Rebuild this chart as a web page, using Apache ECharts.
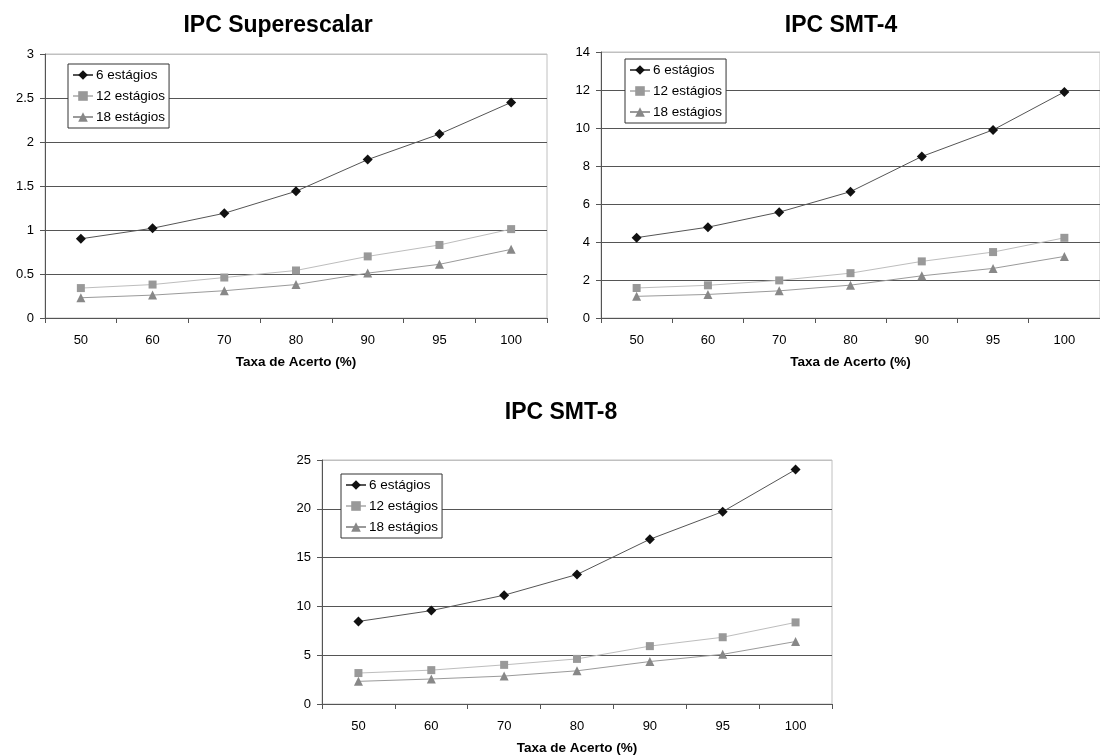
<!DOCTYPE html>
<html>
<head>
<meta charset="utf-8">
<script src="https://cdn.jsdelivr.net/npm/echarts@6/dist/echarts.min.js"></script>
<style>
  html, body { margin: 0; padding: 0; background: #fff; }
  #main { width: 1100px; height: 756px; }
</style>
</head>
<body>
<div id="main"></div>
<script>
// categorias (taxa de acerto %)
const categories = ['50', '60', '70', '80', '90', '95', '100']
const seriesNames = ['6 estágios', '12 estágios', '18 estágios']

// IPC Superescalar
const superescalar6 = [0.90, 1.02, 1.19, 1.44, 1.80, 2.09, 2.45]
const superescalar12 = [0.34, 0.38, 0.46, 0.54, 0.70, 0.83, 1.01]
const superescalar18 = [0.23, 0.26, 0.31, 0.38, 0.51, 0.61, 0.78]
// IPC SMT-4
const smt4_6 = [4.23, 4.78, 5.57, 6.65, 8.50, 9.90, 11.90]
const smt4_12 = [1.58, 1.72, 1.98, 2.36, 2.98, 3.47, 4.22]
const smt4_18 = [1.14, 1.24, 1.43, 1.73, 2.22, 2.61, 3.24]
// IPC SMT-8
const smt8_6 = [8.46, 9.57, 11.15, 13.27, 16.88, 19.71, 24.02]
const smt8_12 = [3.17, 3.47, 4.01, 4.62, 5.93, 6.84, 8.36]
const smt8_18 = [2.32, 2.56, 2.86, 3.40, 4.35, 5.09, 6.40]

const font = '"Liberation Sans", Arial, sans-serif'
const dark = '#555'
const light = '#c0c0c0'

// cores / simbolos de cada serie
const styles = [
    { symbol: 'diamond', size: 10, item: '#111', line: '#555' },
    { symbol: 'rect', size: 8, item: '#999', line: '#bdbdbd' },
    { symbol: 'triangle', size: 9, item: '#888', line: '#9a9a9a' }
]

const grids = [
    { left: 45, top: 54, width: 502, height: 264 },
    { left: 601, top: 52, width: 510, height: 266 },
    { left: 322, top: 460, width: 510, height: 247 }
]
const yRanges = [
    { max: 3, interval: 0.5 },
    { max: 14, interval: 2 },
    { max: 25, interval: 5 }
]
const titles = [
    { text: 'IPC Superescalar', x: 278, y: 14 },
    { text: 'IPC SMT-4', x: 841, y: 14 },
    { text: 'IPC SMT-8', x: 561, y: 401 }
]
const legends = [
    { left: 68, top: 64 },
    { left: 625, top: 59 },
    { left: 341, top: 474 }
]
const data = [
    [superescalar6, superescalar12, superescalar18],
    [smt4_6, smt4_12, smt4_18],
    [smt8_6, smt8_12, smt8_18]
]

const myChart = echarts.init(document.getElementById('main'))

function splitColors(r) {
    const n = Math.round(r.max / r.interval)
    const arr = []
    for (let i = 0; i < n; i++) arr.push(dark)
    arr.push(light)
    return arr
}

const series = []
data.forEach((group, g) => {
    group.forEach((vals, i) => {
        const s = styles[i]
        series.push({
            name: seriesNames[i],
            type: 'line',
            xAxisIndex: g,
            yAxisIndex: g,
            data: vals,
            symbol: s.symbol,
            symbolSize: s.size,
            showAllSymbol: true,
            itemStyle: { color: s.item },
            lineStyle: { color: s.line, width: 1 },
            z: 10 - i
        })
    })
})

const option = {
    animation: false,
    backgroundColor: '#fff',
    textStyle: { fontFamily: font },
    title: titles.map(t => ({
        text: t.text,
        left: t.x,
        top: t.y,
        textAlign: 'center',
        padding: 0,
        textStyle: { fontFamily: font, fontSize: 23, fontWeight: 'bold', color: '#000' }
    })),
    legend: legends.map(l => ({
        data: seriesNames,
        orient: 'vertical',
        left: l.left,
        top: l.top,
        itemWidth: 20,
        itemHeight: 12,
        itemGap: 7,
        padding: [4, 4, 4, 4],
        borderColor: '#333',
        borderWidth: 1,
        backgroundColor: '#fff',
        selectedMode: false,
        textStyle: { fontFamily: font, fontSize: 13.5, color: '#000', padding: [0, 0, 0, -2] },
        z: 20
    })),
    grid: grids.map(g => Object.assign({
        show: true,
        borderColor: light,
        borderWidth: 1,
        backgroundColor: '#fff'
    }, g)),
    xAxis: grids.map((g, i) => ({
        type: 'category',
        gridIndex: i,
        data: categories,
        boundaryGap: true,
        name: 'Taxa de Acerto (%)',
        nameLocation: 'middle',
        nameGap: 37,
        nameTextStyle: { fontFamily: font, fontSize: 13.5, fontWeight: 'bold', color: '#000' },
        axisLine: { lineStyle: { color: dark, width: 1 } },
        axisTick: { show: true, length: 5, lineStyle: { color: dark } },
        axisLabel: { margin: 16, fontFamily: font, fontSize: 13, color: '#000' },
        splitLine: { show: false }
    })),
    yAxis: yRanges.map((r, i) => ({
        type: 'value',
        gridIndex: i,
        min: 0,
        max: r.max,
        interval: r.interval,
        axisLine: { show: true, lineStyle: { color: dark, width: 1 } },
        axisTick: { show: true, length: 5, lineStyle: { color: dark } },
        axisLabel: { margin: 11, fontFamily: font, fontSize: 13, color: '#000' },
        splitLine: { show: true, lineStyle: { color: splitColors(r), width: 1 } }
    })),
    series: series
}

myChart.setOption(option)
</script>
</body>
</html>
